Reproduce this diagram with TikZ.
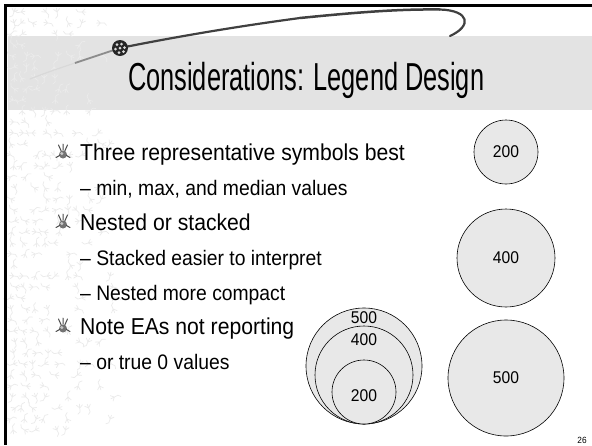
\documentclass[tikz,border=0pt]{standalone}
\usepackage{fontspec}
\usetikzlibrary{calc}
\setmainfont[FakeStretch=0.92]{Liberation Sans}
\newfontfamily\titlefont[FakeStretch=0.65]{Liberation Sans}
\newcommand{\bulletmark}[1]{%
  \begin{scope}[shift={#1}]
    \fill[black!55] (0,0.5) circle (4pt);
    \fill[black!22] (-1.2,-0.5) circle (1.7pt);
    \draw[black!70,line width=1pt,line cap=round] (-4.5,-9) -- (-1.8,-3) (4.5,-9) -- (1.8,-3) (0,-10) -- (0,-4) (-7,3.5) -- (-3.5,1.5) (7,3.5) -- (3.5,1.5);
  \end{scope}}
\begin{document}
\begin{tikzpicture}[x=1pt,y=-1pt,
  title/.style={anchor=base west,inner sep=0pt,font=\titlefont\fontsize{39}{39}\selectfont},
  lvlone/.style={anchor=base west,inner sep=0pt,font=\fontsize{23}{23}\selectfont},
  lvltwo/.style={anchor=base west,inner sep=0pt,font=\fontsize{21}{21}\selectfont},
  bubble/.style={circle,draw=black,line width=0.6pt,fill=black!9,inner sep=0pt},
  num/.style={inner sep=0pt,font=\fontsize{17}{17}\selectfont},
  glyph/.style={draw=black!8,line width=0.7pt,line cap=round}]
\useasboundingbox (0,0) rectangle (592,445);
\fill[white] (0,0) rectangle (592,445);
% title band
\fill[black!11] (8,36) rectangle (592,110);
% faint glyph texture along the left margin
\pgfmathsetseed{11}
\foreach \gx in {13,24,...,120}{
  \foreach \gy in {12,23,...,440}{
    \pgfmathsetmacro{\dx}{rnd*6-3}
    \pgfmathsetmacro{\ang}{rnd*360}
    \pgfmathsetmacro{\keep}{rnd*135}
    \ifdim\keep pt>\gx pt
      \draw[glyph,shift={(\gx+\dx,\gy)},rotate=\ang] (0,-4) -- (0,4) (0,0) -- (-3,-3) (0,0) -- (3,-3) (0,4) -- (-2.5,6);
    \fi
  }
}
% frame: top and left rules
\draw[black,line width=2.6pt] (4,5.5) -- (592,5.5);
\draw[black,line width=2.6pt] (5.5,4) -- (5.5,445);
% swoosh over the title
\coordinate (s0) at (30,79);
\coordinate (s1) at (75,63);
\coordinate (s2) at (120,48);
\coordinate (s3) at (300,18);
\coordinate (s4) at (440,9.5);
\coordinate (s5) at (450,36);
\draw[black!15,line width=1.2pt,line cap=round] (s0) .. controls (45,73) and (60,68) .. (s1);
\draw[black!45,line width=1.8pt] (s1) .. controls (90,58) and (105,53) .. (s2);
\draw[black!75,line width=2.2pt] (s2) .. controls (180,36) and (240,26) .. (s3);
\draw[black!75,line width=2.5pt] (s3) .. controls (360,12) and (400,9) .. (s4);
\draw[black!75,line width=2.2pt,line cap=round] (s4) .. controls (470,10.5) and (472,26) .. (s5);
% ornament on the swoosh
\node[circle,fill=black!85,minimum size=16pt,inner sep=0pt] (orn) at (s2) {};
\foreach \ox/\oy in {-3/-3.5,1.5/-4,4.5/-0.5,-4.5/1,0/0,3.5/3.5,-1/4.5}
  \fill[white!85!black] ($(orn.center)+(\ox,\oy)$) circle (1.5pt);
% title
\node[title] (ttl) at (128,90) {Considerations: Legend Design};
% bullet ornaments
\bulletmark{(63,154)}
\bulletmark{(63,224)}
\bulletmark{(63,328)}
% bullet text
\node[lvlone] (b1) at (80,160) {Three representative symbols best};
\node[lvltwo] (b1a) at (80,195) {– min, max, and median values};
\node[lvlone] (b2) at (80,230) {Nested or stacked};
\node[lvltwo] (b2a) at (80,265) {– Stacked easier to interpret};
\node[lvltwo] (b2b) at (80,300) {– Nested more compact};
\node[lvlone] (b3) at (80,334) {Note EAs not reporting};
\node[lvltwo] (b3a) at (80,369) {– or true 0 values};
% stacked legend symbols
\node[bubble,minimum size=64pt] (c200) at (506,152) {};
\node[num] (t200) at (c200) {200};
\node[bubble,minimum size=98pt] (c400) at (506,258) {};
\node[num] (t400) at (c400) {400};
\node[bubble,minimum size=116pt] (c500) at (506,378) {};
\node[num] (t500) at (c500) {500};
% nested legend symbols sharing one base point
\node[bubble,minimum size=116pt] (n500) at (364,366) {};
\node[bubble,minimum size=98pt] (n400) at (364,375) {};
\node[bubble,minimum size=64pt] (n200) at (364,392) {};
\node[num] (u500) at (364,318) {500};
\node[num] (u400) at (364,340) {400};
\node[num] (u200) at (364,396) {200};
% page number
\node[inner sep=0pt,font=\fontsize{9}{9}\selectfont] (pg) at (582,440) {26};
\end{tikzpicture}
\end{document}
